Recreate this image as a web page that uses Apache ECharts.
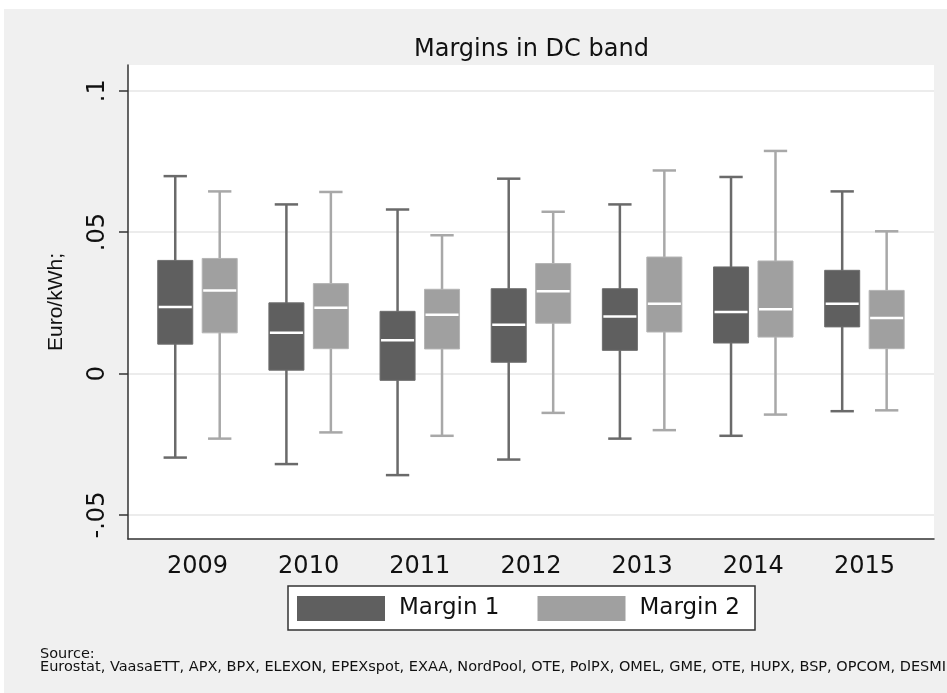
<!DOCTYPE html>
<html>
<head>
<meta charset="utf-8">
<script src="https://cdn.jsdelivr.net/npm/echarts@6/dist/echarts.min.js"></script>
<style>
  html, body { margin: 0; padding: 0; background: #fff; }
  #chart { position: absolute; left: 4px; top: 9px; width: 943px; height: 684px; }
</style>
</head>
<body>
<div id="chart"></div>
<script>
// years on the x axis
var years = ['2009', '2010', '2011', '2012', '2013', '2014', '2015'];
// [lower whisker, Q1, median, Q3, upper whisker], Euro/kWh
var margin1 = [
  [-0.0297, 0.0104, 0.0235, 0.0400, 0.0698],
  [-0.0320, 0.0012, 0.0144, 0.0250, 0.0598],
  [-0.0359, -0.0024, 0.0118, 0.0220, 0.0580],
  [-0.0304, 0.0040, 0.0173, 0.0300, 0.0689],
  [-0.0230, 0.0082, 0.0202, 0.0300, 0.0598],
  [-0.0220, 0.0108, 0.0218, 0.0377, 0.0695],
  [-0.0133, 0.0165, 0.0247, 0.0365, 0.0644]
];
var margin2 = [
  [-0.0230, 0.0144, 0.0294, 0.0407, 0.0644],
  [-0.0208, 0.0088, 0.0233, 0.0318, 0.0642],
  [-0.0220, 0.0087, 0.0208, 0.0298, 0.0489],
  [-0.0139, 0.0178, 0.0291, 0.0389, 0.0572],
  [-0.0200, 0.0147, 0.0247, 0.0412, 0.0718],
  [-0.0145, 0.0129, 0.0227, 0.0398, 0.0787],
  [-0.0130, 0.0088, 0.0196, 0.0294, 0.0503]
];
// y tick values and their labels
var yTicks = [-0.05, 0, 0.05, 0.1];
var yTickLabels = ['-.05', '0', '.05', '.1'];

var FONT = 'DejaVu Sans';
var chart = echarts.init(document.getElementById('chart'));

function boxRenderer(offset, fill, edge, whisker) {
  return function (params, api) {
    var i = api.value(0);
    var band = api.size([1, 0])[0];
    var cx = api.coord([i, 0])[0] + offset * band;
    var w = band * 0.315;
    var cap = band * 0.21;
    var yMin = api.coord([i, api.value(1)])[1];
    var yQ1 = api.coord([i, api.value(2)])[1];
    var yMed = api.coord([i, api.value(3)])[1];
    var yQ3 = api.coord([i, api.value(4)])[1];
    var yMax = api.coord([i, api.value(5)])[1];
    var ws = { stroke: whisker, lineWidth: 2.5 };
    return {
      type: 'group',
      children: [
        { type: 'line', shape: { x1: cx, y1: yMax, x2: cx, y2: yMin }, style: ws },
        { type: 'line', shape: { x1: cx - cap / 2, y1: yMax, x2: cx + cap / 2, y2: yMax }, style: ws },
        { type: 'line', shape: { x1: cx - cap / 2, y1: yMin, x2: cx + cap / 2, y2: yMin }, style: ws },
        { type: 'rect', shape: { x: cx - w / 2, y: yQ3, width: w, height: yQ1 - yQ3 },
          style: { fill: fill, stroke: edge, lineWidth: 1 } },
        { type: 'line', shape: { x1: cx - w / 2 + 1, y1: yMed, x2: cx + w / 2 - 1, y2: yMed },
          style: { stroke: '#ffffff', lineWidth: 2.5 } }
      ]
    };
  };
}

var option = {
  backgroundColor: '#f0f0f0',
  animation: false,
  title: [{
    text: 'Margins in DC band',
    left: 405,
    top: 24,
    textStyle: { fontFamily: FONT, fontSize: 24, fontWeight: 'normal', color: '#111' }
  }, {
    text: 'Source:\nEurostat, VaasaETT, APX, BPX, ELEXON, EPEXspot, EXAA, NordPool, OTE, PolPX, OMEL, GME, OTE, HUPX, BSP, OPCOM, DESMIE',
    left: 31,
    top: 634,
    textStyle: { fontFamily: FONT, fontSize: 14.5,
      lineHeight: 12.5, fontWeight: 'normal', color: '#111' }
  }],
  legend: {
    data: ['Margin 1', 'Margin 2'],
    left: 284,
    top: 577,
    icon: 'rect',
    itemWidth: 88,
    itemHeight: 25,
    itemGap: 38,
    padding: [10, 15, 9, 9],
    backgroundColor: '#fff',
    borderColor: '#333',
    borderWidth: 1.5,
    itemStyle: { borderWidth: 0 },
    textStyle: { fontFamily: FONT, fontSize: 23, color: '#111', padding: [0, 0, 0, 9] }
  },
  grid: [
    // full plot frame
    { left: 124, right: 13, top: 56, bottom: 154, show: true, backgroundColor: '#fff', borderWidth: 0 },
    // y ticks and grid lines
    { left: 124, right: 13, top: 81.7, bottom: 178 },
    // boxes
    { left: 137.9, right: 27, top: 81.7, bottom: 178 }
  ],
  xAxis: [
    { gridIndex: 0, type: 'value', min: 0, max: 1,
      axisLine: { show: true, onZero: false, lineStyle: { color: '#333', width: 1.5 } },
      axisTick: { show: false }, axisLabel: { show: false }, splitLine: { show: false } },
    { gridIndex: 1, type: 'value', min: 0, max: 1, show: false },
    { gridIndex: 2, type: 'category', data: years,
      axisLine: { show: false }, axisTick: { show: false }, splitLine: { show: false },
      axisLabel: { margin: 40, fontFamily: FONT, fontSize: 24, color: '#111' } }
  ],
  yAxis: [
    { gridIndex: 0, type: 'value', min: -0.0586, max: 0.1089,
      name: 'Euro/kWh;', nameLocation: 'middle', nameGap: 61, nameRotate: 90,
      nameTextStyle: { fontFamily: 'Liberation Sans', fontSize: 21, color: '#111' },
      axisLine: { show: true, onZero: false, lineStyle: { color: '#333', width: 1.5 } },
      axisTick: { show: false }, axisLabel: { show: false }, splitLine: { show: false } },
    { gridIndex: 1, type: 'value', min: -0.05, max: 0.1, interval: 0.05,
      axisLine: { show: false },
      axisTick: { show: true, length: 9, lineStyle: { color: '#333', width: 1.5 } },
      splitLine: { show: true, lineStyle: { color: '#e6e6e6', width: 1.5 } },
      axisLabel: {
        rotate: 90, margin: 18, fontFamily: FONT, fontSize: 24, color: '#111',
        formatter: function (v) {
          for (var k = 0; k < yTicks.length; k++) {
            if (Math.abs(yTicks[k] - v) < 1e-9) return yTickLabels[k];
          }
          return '';
        }
      } },
    { gridIndex: 2, type: 'value', min: -0.05, max: 0.1, show: false }
  ],
  series: [{
    name: 'Margin 1',
    type: 'custom',
    xAxisIndex: 2, yAxisIndex: 2,
    itemStyle: { color: '#5f5f5f' },
    encode: { x: 0, y: [1, 2, 3, 4, 5] },
    renderItem: boxRenderer(-0.2, '#5f5f5f', '#6e6e6e', '#6a6a6a'),
    data: years.map(function (y, i) { return [i].concat(margin1[i]); })
  }, {
    name: 'Margin 2',
    type: 'custom',
    xAxisIndex: 2, yAxisIndex: 2,
    itemStyle: { color: '#a0a0a0' },
    encode: { x: 0, y: [1, 2, 3, 4, 5] },
    renderItem: boxRenderer(0.2, '#a0a0a0', '#b4b4b4', '#a8a8a8'),
    data: years.map(function (y, i) { return [i].concat(margin2[i]); })
  }]
};

chart.setOption(option);
</script>
</body>
</html>
